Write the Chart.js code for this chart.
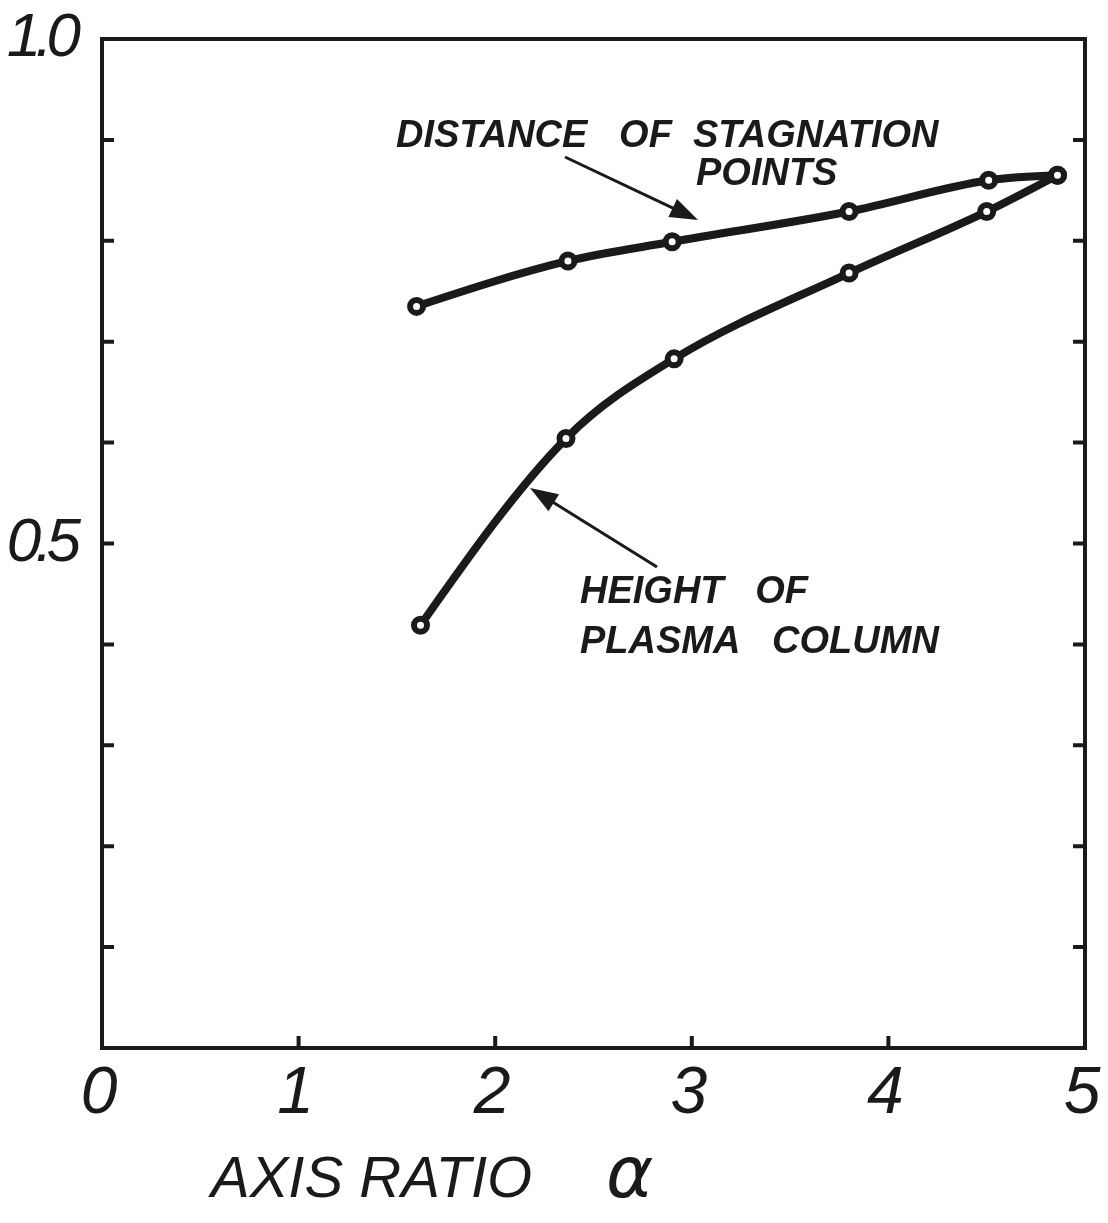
<!DOCTYPE html>
<html>
<head>
<meta charset="utf-8">
<script src="https://cdn.jsdelivr.net/npm/chart.js@4.4.1/dist/chart.umd.min.js"></script>
<style>
  html, body { margin: 0; padding: 0; background: #fff; }
  #wrap { width: 1108px; height: 1223px; position: relative; }
</style>
</head>
<body>
<div id="wrap"><canvas id="chart"></canvas></div>
<script>
// values
const axisRatio = [1.60, 2.37, 2.90, 3.80, 4.51, 4.86];
const stagnationDistance = [0.735, 0.780, 0.799, 0.829, 0.860, 0.865];
const plasmaHeightRatio = [1.62, 2.36, 2.91, 3.80, 4.50, 4.86];
const plasmaHeight = [0.419, 0.604, 0.683, 0.768, 0.829, 0.865];
const xTickLabels = ['0', '1', '2', '3', '4', '5'];
const yTickLabels = { 0.5: '0.5', 1: '1.0' };

const ink = '#1a1a1a';
const face = '"Liberation Sans", Arial, sans-serif';

function toPoints(xs, ys) {
    return xs.map((x, i) => ({ x: x, y: ys[i] }));
}

function arrow(ctx, x1, y1, x2, y2) {
    const ang = Math.atan2(y2 - y1, x2 - x1);
    const len = 28, half = 10;
    ctx.beginPath();
    ctx.moveTo(x1, y1);
    ctx.lineTo(x2 - Math.cos(ang) * len * 0.8, y2 - Math.sin(ang) * len * 0.8);
    ctx.lineWidth = 3;
    ctx.stroke();
    ctx.beginPath();
    ctx.moveTo(x2, y2);
    ctx.lineTo(x2 - Math.cos(ang) * len - Math.sin(ang) * half, y2 - Math.sin(ang) * len + Math.cos(ang) * half);
    ctx.lineTo(x2 - Math.cos(ang) * len + Math.sin(ang) * half, y2 - Math.sin(ang) * len - Math.cos(ang) * half);
    ctx.closePath();
    ctx.fill();
}

// tick label overflow should not push the plot area in
function noOverflow(s) {
    s.paddingTop = 0;
    s.paddingBottom = 0;
    s.paddingLeft = 0;
    s.paddingRight = 0;
}

// natural end conditions for the curves (the hand-drawn lines bend from the first point on)
const smoothEnds = {
    id: 'smoothEnds',
    beforeDatasetDraw(chart, args) {
        const meta = args.meta;
        meta.dataset.updateControlPoints(chart.chartArea, meta.iScale.axis);
        const pts = meta.data;
        const n = pts.length;
        if (n < 3) return;
        const a = pts[0], b = pts[1];
        a.cp2x = a.x + (b.cp1x - a.x) / 2;
        a.cp2y = a.y + (b.cp1y - a.y) / 2;
        const z = pts[n - 1], y = pts[n - 2];
        z.cp1x = z.x + (y.cp2x - z.x) / 2;
        z.cp1y = z.y + (y.cp2y - z.y) / 2;
    }
};

// frame, inward ticks, labels and arrows
const decorations = {
    id: 'decorations',
    beforeDraw(chart) {
        // hand lettering on the axes is set tight
        chart.ctx.letterSpacing = '-6px';
    },
    beforeDatasetsDraw(chart) {
        const { ctx, chartArea: a, scales } = chart;
        ctx.save();
        ctx.strokeStyle = ink;
        ctx.lineWidth = 4;
        ctx.lineCap = 'square';
        ctx.strokeRect(a.left, a.top, a.right - a.left, a.bottom - a.top);
        ctx.lineCap = 'butt';
        ctx.beginPath();
        scales.y.ticks.forEach(t => {
            if (t.value <= 0 || t.value >= 1) return;
            const py = scales.y.getPixelForValue(t.value);
            ctx.moveTo(a.left, py); ctx.lineTo(a.left + 12, py);
            ctx.moveTo(a.right, py); ctx.lineTo(a.right - 12, py);
        });
        scales.x.ticks.forEach(t => {
            if (t.value <= 0 || t.value >= 5) return;
            const px = scales.x.getPixelForValue(t.value);
            ctx.moveTo(px, a.bottom); ctx.lineTo(px, a.bottom - 12);
        });
        ctx.stroke();
        ctx.restore();
    },
    afterDatasetsDraw(chart) {
        const { ctx, chartArea: a } = chart;
        ctx.save();
        ctx.letterSpacing = '0px';
        ctx.fillStyle = ink;
        ctx.strokeStyle = ink;
        ctx.textBaseline = 'alphabetic';
        ctx.textAlign = 'left';
        ctx.font = 'italic bold 38px ' + face;
        ctx.fillText('DISTANCE   OF  STAGNATION', a.left + 294, 147);
        ctx.fillText('POINTS', a.left + 594, 185);
        ctx.fillText('HEIGHT   OF', a.left + 478, 603);
        ctx.fillText('PLASMA   COLUMN', a.left + 478, 653);
        arrow(ctx, 565, 157, 698, 220);
        arrow(ctx, 657, 567, 530, 488);
        ctx.font = 'italic 58px ' + face;
        ctx.fillText('AXIS RATIO', 211, 1197);
        ctx.font = 'italic 72px "DejaVu Sans", sans-serif';
        ctx.fillText('\u03b1', 606, 1197);
        ctx.restore();
    }
};

const lineStyle = {
    borderColor: ink,
    borderWidth: 8,
    cubicInterpolationMode: 'monotone',
    pointRadius: 6.5,
    pointBorderWidth: 6,
    pointBackgroundColor: '#fff',
    pointBorderColor: ink,
    fill: false
};

new Chart(document.getElementById('chart'), {
    type: 'line',
    data: {
        datasets: [
            Object.assign({ label: 'Distance of stagnation points', data: toPoints(axisRatio, stagnationDistance) }, lineStyle),
            Object.assign({ label: 'Height of plasma column', data: toPoints(plasmaHeightRatio, plasmaHeight) }, lineStyle)
        ]
    },
    options: {
        responsive: true,
        maintainAspectRatio: false,
        animation: false,
        layout: { padding: { left: 0, top: 39, right: 23, bottom: 0 } },
        plugins: {
            legend: { display: false },
            tooltip: { enabled: false },
            title: { display: false }
        },
        scales: {
            x: {
                type: 'linear',
                min: 0,
                max: 5,
                grid: { display: false, drawTicks: false },
                border: { display: false },
                ticks: {
                    stepSize: 1,
                    padding: 14,
                    labelOffset: -6,
                    color: ink,
                    maxRotation: 0,
                    font: { family: face, size: 66, style: 'italic', lineHeight: 1 },
                    callback: v => xTickLabels[v] ?? ''
                },
                afterFit: s => { s.height = 175; noOverflow(s); }
            },
            y: {
                min: 0,
                max: 1,
                grid: { display: false, drawTicks: false },
                border: { display: false },
                ticks: {
                    stepSize: 0.1,
                    padding: 27,
                    color: ink,
                    font: { family: face, size: 62, style: 'italic', lineHeight: 1 },
                    callback: v => {
                        const k = Math.round(v * 10) / 10;
                        return yTickLabels[k] ?? '';
                    }
                },
                afterFit: s => { s.width = 102; noOverflow(s); }
            }
        }
    },
    plugins: [smoothEnds, decorations]
});
</script>
</body>
</html>
